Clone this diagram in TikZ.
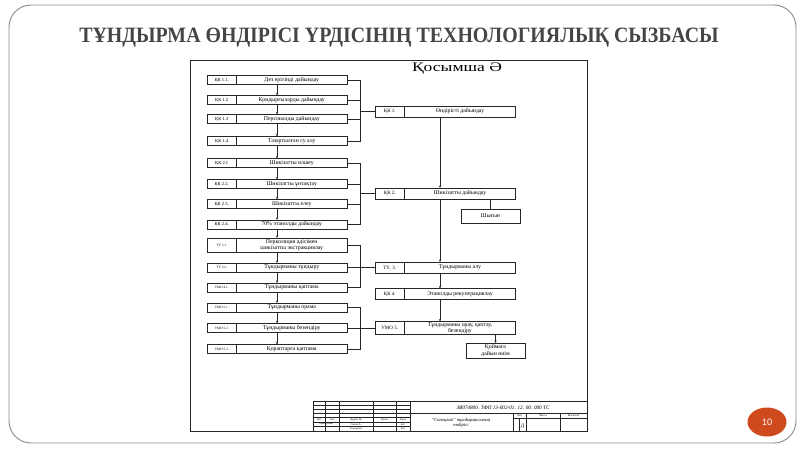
\documentclass[tikz,border=0pt]{standalone}
\usepackage{fontspec}
\setmainfont{Liberation Serif}
\newfontfamily\numfont{Carlito}
\usetikzlibrary{arrows.meta,shapes.geometric}
\definecolor{titlegray}{HTML}{454545}
\definecolor{pagered}{HTML}{CF4A1C}
\definecolor{frameline}{HTML}{8A8A8A}
\begin{document}
\begin{tikzpicture}[x=1pt,y=-1pt,
  every node/.style={inner sep=0pt, outer sep=0pt},
  ln/.style={line width=0.55pt, draw=black!85},
  lbl/.style={ln, minimum width=29.5pt, minimum height=9pt, font=\fontsize{4.6}{5}\selectfont},
  lbls/.style={lbl, font=\fontsize{3.4}{4}\selectfont},
  txt/.style={ln, minimum width=110.5pt, minimum height=9pt, font=\fontsize{5.8}{6.3}\selectfont, align=center},
  rlbl/.style={ln, minimum width=29.5pt, minimum height=11pt, font=\fontsize{5}{5.5}\selectfont},
  rtxt/.style={ln, minimum width=111pt, minimum height=11pt, font=\fontsize{5.8}{6.3}\selectfont, align=center},
  sbox/.style={ln, minimum width=59pt, minimum height=14pt, font=\fontsize{5.8}{6.3}\selectfont, align=center},
  conn/.style={line width=0.55pt, draw=black!85},
  arr/.style={conn, -{Stealth[length=2.6pt,width=2.2pt]}},
  tiny/.style={font=\fontsize{2.8}{3}\selectfont},
]
\useasboundingbox (0,0) rectangle (800,450);
\fill[white] (0,0) rectangle (800,450);
% slide border
\draw[frameline, line width=0.9pt, rounded corners=22pt] (9,5) rectangle (796,443);
% title
\node[font=\fontsize{19.9}{22}\selectfont\bfseries, text=titlegray, yscale=1.1] (title) at (399,38)
  {ТҰНДЫРМА ӨНДІРІСІ ҮРДІСІНІҢ ТЕХНОЛОГИЯЛЫҚ СЫЗБАСЫ};
% sheet frame
\draw[conn] (190,60) rectangle (587,431);
\node[font=\fontsize{13}{15}\selectfont, xscale=1.35] (app) at (457,69) {Қосымша Ә};
% helper coordinates
\coordinate (cl) at (277,0);
\coordinate (bx) at (360,0);
\coordinate (cr) at (440,0);
% left column
\node[lbl, anchor=west] (l11) at (207,80) {ҚК 1.1.};
\node[txt, anchor=west] (t11) at (l11.east) {Дез ерітінді дайындау};
\node[lbl, anchor=west] (l12) at (207,100) {ҚК 1.2};
\node[txt, anchor=west] (t12) at (l12.east) {Қондырғыларды дайындау};
\node[lbl, anchor=west] (l13) at (207,119) {ҚК 1.3};
\node[txt, anchor=west] (t13) at (l13.east) {Персоналды дайындау};
\node[lbl, anchor=west] (l14) at (207,141) {ҚК 1.4};
\node[txt, anchor=west] (t14) at (l14.east) {Тазартылған су алу};
\node[lbl, anchor=west] (l21) at (207,163) {ҚК 2.1};
\node[txt, anchor=west] (t21) at (l21.east) {Шикізатты өлшеу};
\node[lbl, anchor=west] (l22) at (207,184) {ҚК 2.2.};
\node[txt, anchor=west] (t22) at (l22.east) {Шикізатты ұнтақтау};
\node[lbl, anchor=west] (l23) at (207,204) {ҚК 2.3.};
\node[txt, anchor=west] (t23) at (l23.east) {Шикізатты елеу};
\node[lbl, anchor=west] (l24) at (207,224.5) {ҚК 2.4.};
\node[txt, anchor=west] (t24) at (l24.east) {70\% этанолды дайындау};
\node[lbls, anchor=west, minimum height=14pt] (l31) at (207,245) {ТҮ 3.1.};
\node[txt, anchor=west, minimum height=14pt] (t31) at (l31.east) {Перколяция әдісімен\\шикізатты экстракциялау};
\node[lbls, anchor=west] (l32) at (207,267.5) {ТҮ 3.2.};
\node[txt, anchor=west] (t32) at (l32.east) {Тұндырманы тұндыру};
\node[lbls, anchor=west] (l41) at (207,287.5) {УМО 4.1.};
\node[txt, anchor=west] (t41) at (l41.east) {Тұндырманы қаптама};
\node[lbls, anchor=west] (l51) at (207,307.5) {УМО 5.1.};
\node[txt, anchor=west] (t51) at (l51.east) {Тұндырманы орама};
\node[lbls, anchor=west] (l52) at (207,328) {УМО 5.2.};
\node[txt, anchor=west] (t52) at (l52.east) {Тұндырманы безендіру};
\node[lbls, anchor=west] (l53) at (207,349) {УМО 5.3.};
\node[txt, anchor=west] (t53) at (l53.east) {Қораптарға қаптама};
% right column
\node[rlbl, anchor=west] (r1l) at (375,111.5) {ҚК 1.};
\node[rtxt, anchor=west] (r1t) at (r1l.east) {Өндірісті дайындау};
\node[rlbl, anchor=west] (r2l) at (375,193.5) {ҚК 2.};
\node[rtxt, anchor=west] (r2t) at (r2l.east) {Шикізатты дайындау};
\node[sbox] (shy) at (490.5,216) {Шығын};
\node[rlbl, anchor=west] (r3l) at (375,267.5) {ТҮ. 3.};
\node[rtxt, anchor=west] (r3t) at (r3l.east) {Тұндырманы алу};
\node[rlbl, anchor=west] (r4l) at (375,294) {ҚК 4.};
\node[rtxt, anchor=west] (r4t) at (r4l.east) {Этанолды рекуперациялау};
\node[rlbl, anchor=west, minimum height=13pt] (r5l) at (375,328) {УМО 5.};
\node[rtxt, anchor=west, minimum height=13pt] (r5t) at (r5l.east) {Тұндырманы орау, қаптау,\\безендіру};
\node[sbox, minimum height=15pt] (st) at (495.5,350.5) {Қоймаға\\дайын өнім};
% left chain
\foreach \a/\b in {t11/t12,t12/t13,t13/t14,t14/t21,t21/t22,t22/t23,t23/t24,t24/t31,t31/t32,t32/t41,t41/t51,t51/t52,t52/t53}
  \draw[arr] (\a.south -| cl) -- (\b.north -| cl);
% brackets
\draw[conn] (t11.east) -- (t11.east -| bx) -- (t14.east -| bx) -- (t14.east);
\draw[conn] (t12.east) -- (t12.east -| bx);
\draw[conn] (t13.east) -- (t13.east -| bx);
\draw[conn] (r1l.west) -- (r1l.west -| bx);
\draw[conn] (t21.east) -- (t21.east -| bx) -- (t24.east -| bx) -- (t24.east);
\draw[conn] (t22.east) -- (t22.east -| bx);
\draw[conn] (t23.east) -- (t23.east -| bx);
\draw[conn] (r2l.west) -- (r2l.west -| bx);
\draw[conn] (t31.east) -- (t31.east -| bx) -- (t41.east -| bx) -- (t41.east);
\draw[conn] (t32.east) -- (r3l.west);
\draw[conn] (t51.east) -- (t51.east -| bx) -- (t53.east -| bx) -- (t53.east);
\draw[conn] (t52.east) -- (r5l.west);
% right chain
\foreach \a/\b in {r1t/r2t,r2t/r3t,r3t/r4t,r4t/r5t}
  \draw[arr] (\a.south -| cr) -- (\b.north -| cr);
\draw[conn] (r2t.south -| shy) -- (shy.north);
\draw[arr] (r5t.south -| st) -- (st.north);
% title block (stamp)
\draw[conn] (313,401) rectangle (587,431);
\foreach \x in {325.5,339.5,373,396,410} \draw[conn, line width=0.4pt] (\x,401) -- (\x,431);
\foreach \y in {405,409,417.5,422,426.5} \draw[conn, line width=0.4pt] (313,\y) -- (410,\y);
\draw[conn, line width=0.8pt] (313,413) -- (587,413);
\draw[conn, line width=0.4pt] (513,413) -- (513,431);
\draw[conn, line width=0.4pt] (526,413) -- (526,431);
\draw[conn, line width=0.4pt] (560,413) -- (560,431);
\draw[conn, line width=0.4pt] (513,418) -- (587,418);
\draw[conn, line width=0.4pt] (519,418) -- (519,431);
\node[font=\fontsize{5.2}{6}\selectfont\itshape] (code) at (503,407.5) {ЗВ074800. ТФП 13-002-01. 12. 00. 000 ТС};
\node[font=\fontsize{4.6}{5.2}\selectfont\itshape, align=center] (name) at (461,422.5) {“Сапоцкан” тұндырмасының\\өндірісі};
\node[tiny] (hl) at (519.5,415.7) {Лит};
\node[tiny] (hm) at (543,415.7) {Масса};
\node[tiny] (hs) at (573.5,415.7) {Масштаб};
\node[font=\fontsize{5}{5}\selectfont] (dd) at (522.5,426) {Д};
\node[tiny] (s1) at (319.5,419.8) {Өзг.};
\node[tiny] (s2) at (332.5,419.8) {Бет};
\node[tiny] (s3) at (356,419.8) {Құжат №};
\node[tiny] (s4) at (384.5,419.8) {Қолы};
\node[tiny] (s5) at (403,419.8) {Күні};
\node[tiny] (s6) at (326,424.2) {Орындаған};
\node[tiny] (s7) at (356,424.2) {Сапов А.};
\node[tiny] (s8) at (356,428.7) {Тексерген};
\node[tiny] (s9) at (403,424.2) {Бет};
\node[tiny] (s10) at (403,428.7) {Бет};
% page number
\node[ellipse, fill=pagered, minimum width=39pt, minimum height=29pt, text=white, font=\numfont\fontsize{10}{11}\selectfont] (pg) at (767,422) {10};
\end{tikzpicture}
\end{document}
